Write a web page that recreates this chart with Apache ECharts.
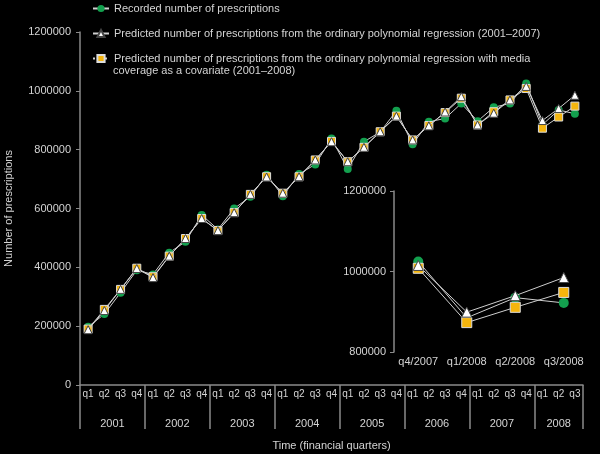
<!DOCTYPE html>
<html>
<head>
<meta charset="utf-8">
<script src="https://cdn.jsdelivr.net/npm/echarts@6/dist/echarts.min.js"></script>
<style>
  html, body { margin: 0; padding: 0; background: #000; }
  #main { width: 600px; height: 454px; }
</style>
</head>
<body>
<div id="main"></div>
<script type="text/javascript">
// quarters 2001 q1 .. 2008 q3
var years = ['2001', '2002', '2003', '2004', '2005', '2006', '2007', '2008'];
var quarterNames = ['q1', 'q2', 'q3', 'q4'];
var insetLabels = ['q4/2007', 'q1/2008', 'q2/2008', 'q3/2008'];
var yTicks = [0, 200000, 400000, 600000, 800000, 1000000, 1200000];

var recorded = [198000, 241000, 314000, 390000, 376000, 450000, 487000, 578000,
                529000, 600000, 640000, 715000, 642000, 717000, 750000, 838000,
                734000, 827000, 860000, 932000, 818000, 895000, 906000, 957000,
                897000, 944000, 957000, 1025000, 885000, 935000, 922000];
var predPoly = [188000, 253000, 325000, 396000, 365000, 438000, 498000, 566000,
                525000, 586000, 648000, 707000, 652000, 708000, 765000, 827000,
                759000, 808000, 861000, 914000, 833000, 881000, 928000, 980000,
                884000, 924000, 969000, 1015000, 899000, 940000, 985000];
var predMedia = [190000, 257000, 325000, 397000, 368000, 438000, 498000, 566000,
                 525000, 586000, 648000, 708000, 652000, 708000, 765000, 828000,
                 759000, 808000, 861000, 914000, 833000, 882000, 926000, 975000,
                 884000, 929000, 969000, 1008000, 873000, 911000, 948000];

var nameRec = 'Recorded number of prescriptions';
var namePoly = 'Predicted number of prescriptions from the ordinary polynomial regression (2001\u20132007)';
var nameMedia = 'Predicted number of prescriptions from the ordinary polynomial regression with media';
var nameMedia2 = 'coverage as a covariate (2001\u20132008)';

// x labels
var quarters = [];
for (var i = 0; i < 31; i++) quarters.push(quarterNames[i % 4]);
// year axis: half-quarter points 0..62, year label at the middle of its quarters
var yearSlots = [];
for (var j = 0; j <= 62; j++) yearSlots.push('');
for (var y = 0; y < years.length; y++) {
    var nq = y < 7 ? 4 : 3;
    yearSlots[8 * y + nq] = years[y];
}

var txt = '#d4d4d4';
var axisCol = '#8a8a8a';
var font = 'Liberation Sans';
var lineCol = '#cfcfcf';

var myChart = echarts.init(document.getElementById('main'));

function legendOf(name, top, lineType) {
    return {
        data: [name], left: 92, top: top, itemWidth: 16, itemHeight: 9,
        padding: 0, selectedMode: false,
        lineStyle: { type: lineType },
        textStyle: { color: txt, fontFamily: font, fontSize: 11 }
    };
}

var recStyle = { color: '#13a04e', borderWidth: 0 };
var polyStyle = { color: '#ffffff', borderColor: '#444', borderWidth: 1 };
var mediaStyle = { color: '#f5b50d', borderColor: '#dddddd', borderWidth: 1 };

var option = {
    backgroundColor: '#000',
    animation: false,
    legend: [
        legendOf(nameRec, 3, 'solid'),
        legendOf(namePoly, 28, 'solid'),
        legendOf(nameMedia, 53, 'dotted')
    ],
    graphic: [{
        type: 'text', left: 113, top: 65,
        style: { text: nameMedia2, fill: txt, font: '11px "Liberation Sans"' }
    }],
    grid: [
        { left: 80, right: 17, top: 32, bottom: 69, outerBoundsMode: 'none' },
        { left: 394, width: 194, top: 191, height: 161, outerBoundsMode: 'none' }
    ],
    xAxis: [
        {
            type: 'category', gridIndex: 0, data: quarters,
            axisLine: { lineStyle: { color: axisCol, width: 1.5 } },
            axisTick: { interval: 0, length: 18, lineStyle: { color: axisCol } },
            axisLabel: { interval: 0, margin: 4, color: txt, fontFamily: font, fontSize: 10 }
        },
        {
            type: 'category', gridIndex: 0, position: 'bottom', data: yearSlots,
            boundaryGap: false,
            axisLine: { show: false },
            axisTick: {
                length: 44, lineStyle: { color: axisCol, width: 1.5 },
                interval: function (idx) { return idx % 8 === 0 || idx === 62; }
            },
            axisLabel: { interval: 0, margin: 33, color: txt, fontFamily: font, fontSize: 11 },
            name: 'Time (financial quarters)', nameLocation: 'middle', nameGap: 55,
            nameTextStyle: { color: txt, fontFamily: font, fontSize: 11 }
        },
        {
            type: 'category', gridIndex: 1, data: insetLabels,
            axisLine: { show: false },
            axisTick: { interval: 0, length: 10, lineStyle: { color: axisCol } },
            axisLabel: { interval: 0, margin: 4, color: txt, fontFamily: font, fontSize: 11 }
        }
    ],
    yAxis: [
        {
            type: 'value', gridIndex: 0, min: yTicks[0], max: yTicks[yTicks.length - 1],
            interval: 200000,
            axisLine: { show: true, lineStyle: { color: axisCol, width: 1.5 } },
            axisTick: { show: true, length: 4, lineStyle: { color: axisCol } },
            splitLine: { show: false },
            axisLabel: { margin: 9, color: txt, fontFamily: font, fontSize: 11,
                         formatter: function (v) { return String(v); } },
            name: 'Number of prescriptions', nameLocation: 'middle', nameGap: 66,
            nameTextStyle: { color: txt, fontFamily: font, fontSize: 11 }
        },
        {
            type: 'value', gridIndex: 1, min: 800000, max: 1200000, interval: 200000,
            axisLine: { show: true, lineStyle: { color: axisCol, width: 1.5 } },
            axisTick: { show: true, length: 4, lineStyle: { color: axisCol } },
            splitLine: { show: false },
            axisLabel: { margin: 8, color: txt, fontFamily: font, fontSize: 11,
                         formatter: function (v) { return String(v); } }
        }
    ],
    series: [
        {
            name: nameRec, type: 'line', data: recorded, z: 2,
            symbol: 'circle', symbolSize: 8, itemStyle: recStyle,
            lineStyle: { color: lineCol, width: 1 }
        },
        {
            name: nameMedia, type: 'line', data: predMedia, z: 3,
            symbol: 'rect', symbolSize: 8, itemStyle: mediaStyle,
            lineStyle: { color: lineCol, width: 1 }
        },
        {
            name: namePoly, type: 'line', data: predPoly, z: 4,
            symbol: 'triangle', symbolSize: 8, itemStyle: polyStyle,
            lineStyle: { color: lineCol, width: 1 }
        },
        {
            name: nameRec, type: 'line', xAxisIndex: 2, yAxisIndex: 1,
            data: recorded.slice(27), z: 2,
            symbol: 'circle', symbolSize: 10, itemStyle: recStyle,
            lineStyle: { color: lineCol, width: 1 }
        },
        {
            name: nameMedia, type: 'line', xAxisIndex: 2, yAxisIndex: 1,
            data: predMedia.slice(27), z: 3,
            symbol: 'rect', symbolSize: 10, itemStyle: mediaStyle,
            lineStyle: { color: lineCol, width: 1 }
        },
        {
            name: namePoly, type: 'line', xAxisIndex: 2, yAxisIndex: 1,
            data: predPoly.slice(27), z: 4,
            symbol: 'triangle', symbolSize: 10, itemStyle: polyStyle,
            lineStyle: { color: lineCol, width: 1 }
        }
    ]
};
myChart.setOption(option);
</script>
</body>
</html>
